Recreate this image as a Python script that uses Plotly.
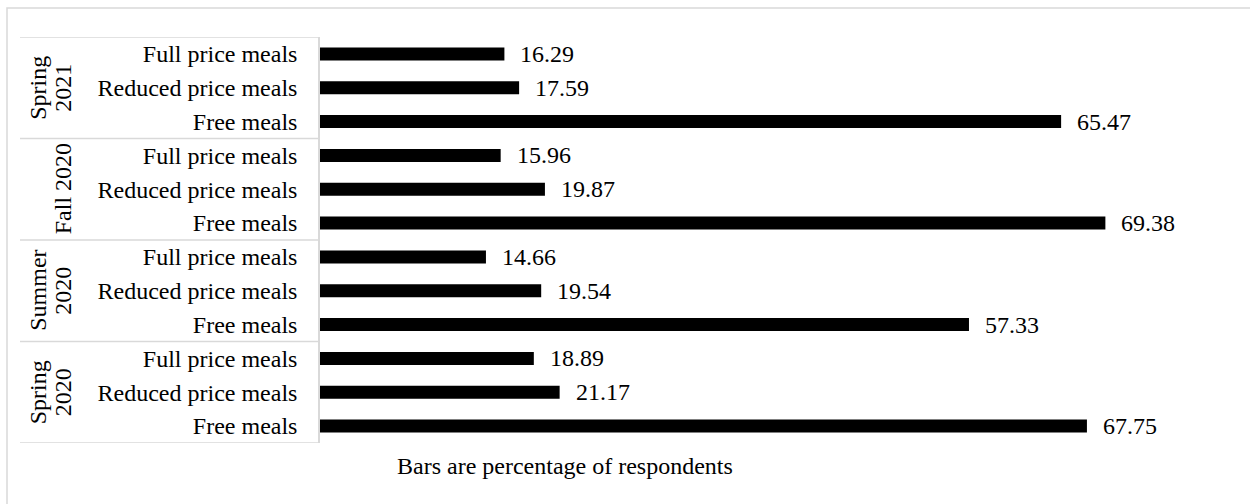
import plotly.graph_objects as go

# Survey periods, listed from the bottom of the chart upward (one list per text line)
periods = [["Spring", "2020"], ["Summer", "2020"], ["Fall 2020"], ["Spring", "2021"]]
# Meal categories within each period, bottom to top
meal_types = ["Free meals", "Reduced price meals", "Full price meals"]

# Percentage of respondents per period (order follows meal_types)
spring_2020 = [67.75, 21.17, 18.89]
summer_2020 = [57.33, 19.54, 14.66]
fall_2020 = [69.38, 19.87, 15.96]
spring_2021 = [65.47, 17.59, 16.29]

period_values = [spring_2020, summer_2020, fall_2020, spring_2021]

W, H = 1250, 504
FONT = "Liberation Serif, Times New Roman, serif"
FS = 24

# Flatten into one row per bar
ypos, xvals, labels = [], [], []
for p_idx, vals in enumerate(period_values):
    for m_idx, v in enumerate(vals):
        ypos.append(p_idx * len(meal_types) + m_idx)
        xvals.append(v)
        labels.append(meal_types[m_idx])

n = len(ypos)

# Plot area placement in pixels
x_left_px, x_right_px = 320, 1240
y_top_px, y_bot_px = 37, 443
px_per_unit = 11.32
x_max = (x_right_px - x_left_px) / px_per_unit

fig = go.Figure()
fig.add_trace(go.Bar(
    x=xvals, y=ypos, orientation="h",
    width=0.385,
    marker=dict(color="black", line=dict(width=0)),
    hoverinfo="skip",
))

# Value labels to the right of each bar
for y, v in zip(ypos, xvals):
    fig.add_annotation(
        x=v, y=y, xref="x", yref="y",
        text=f"{v:.2f}", showarrow=False,
        xanchor="left", yanchor="middle", xshift=14,
        font=dict(family=FONT, size=FS, color="black"),
    )

# Group separators on the category side
sep_color = "#d9d9d9"
for k in range(len(periods) + 1):
    yb = k * len(meal_types) - 0.5
    fig.add_shape(
        type="line", xref="paper", yref="y",
        x0=20 / W, x1=x_left_px / W, y0=yb, y1=yb,
        line=dict(color=sep_color, width=1.5),
    )

# Period labels, rotated; the last line sits nearest the category labels
line_x_px = [38, 63]
for p_idx, lines in enumerate(periods):
    yc = p_idx * len(meal_types) + (len(meal_types) - 1) / 2
    xs = line_x_px[-len(lines):]
    for txt, xp in zip(lines, xs):
        fig.add_annotation(
            x=xp / W, y=yc, xref="paper", yref="y",
            text=txt, showarrow=False, textangle=-90,
            xanchor="center", yanchor="middle",
            font=dict(family=FONT, size=FS, color="black"),
        )

# Axis caption
fig.add_annotation(
    x=565 / W, y=1 - 466 / H, xref="paper", yref="paper",
    text="Bars are percentage of respondents", showarrow=False,
    xanchor="center", yanchor="middle",
    font=dict(family=FONT, size=FS, color="black"),
)

# Outer chart border
fig.add_shape(
    type="rect", xref="paper", yref="paper",
    x0=7 / W, x1=1.01, y0=-0.02, y1=1 - 8 / H,
    line=dict(color="#d9d9d9", width=1.5),
)

fig.update_layout(
    width=W, height=H,
    margin=dict(l=0, r=0, t=0, b=0),
    paper_bgcolor="white", plot_bgcolor="white",
    showlegend=False,
    font=dict(family=FONT, size=FS, color="black"),
    xaxis=dict(
        domain=[x_left_px / W, x_right_px / W],
        range=[0, x_max], visible=False, fixedrange=True,
    ),
    yaxis=dict(
        domain=[1 - y_bot_px / H, 1 - y_top_px / H],
        range=[-0.5, n - 0.5],
        tickmode="array", tickvals=ypos, ticktext=labels,
        ticks="", showgrid=False, zeroline=False,
        showline=True, linecolor=sep_color, linewidth=1.5,
        ticklabelstandoff=16,
        tickfont=dict(family=FONT, size=FS, color="black"),
        fixedrange=True,
    ),
)

fig.write_html("out.html")
